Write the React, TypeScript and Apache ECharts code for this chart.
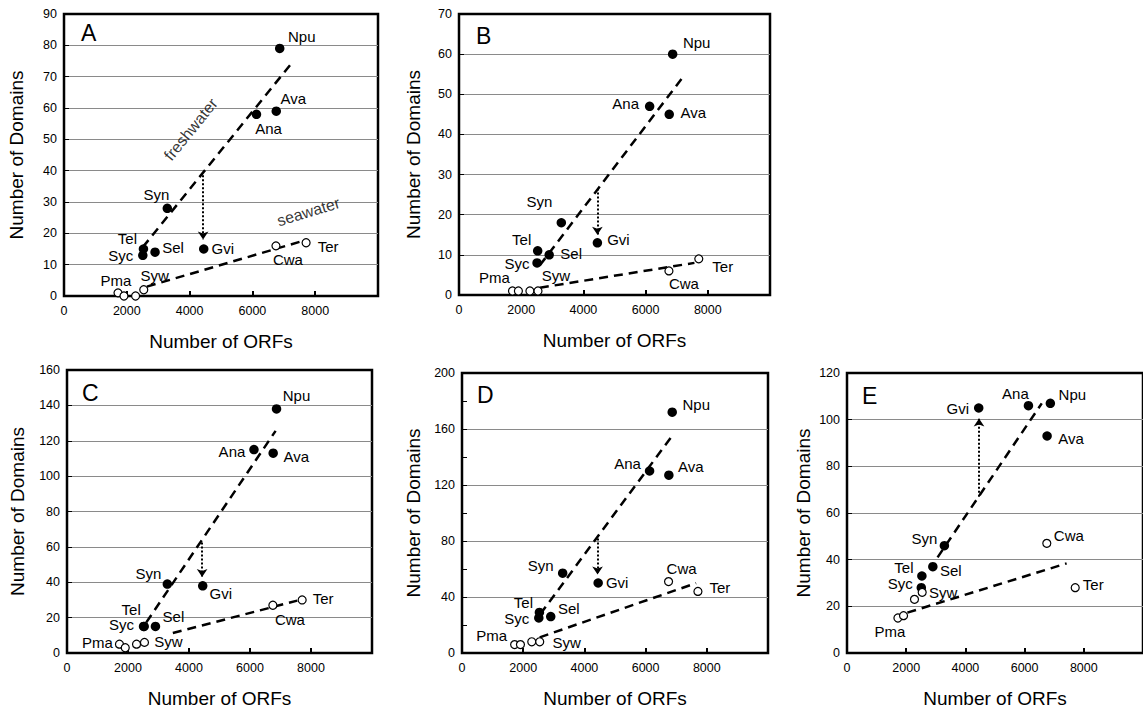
import React, { useEffect, useRef } from "react";
import * as echarts from "echarts";

// ---------- DATA ----------
const organisms = ["Npu", "Ava", "Ana", "Syn", "Gvi", "Sel", "Tel", "Syc", "Pma", "Pmm", "Pmt", "Syw", "Cwa", "Ter"];
const unlabeled = ["Pmm", "Pmt"];
const freshwaterCount = 8; // first 8 organisms are freshwater (filled), remaining seawater (open)
const orfs = [6870, 6760, 6130, 3290, 4450, 2900, 2530, 2510, 1720, 1910, 2280, 2540, 6750, 7710];

const domainsA = [79, 59, 58, 28, 15, 14, 15, 13, 1, 0, 0, 2, 16, 17];
const domainsB = [60, 45, 47, 18, 13, 10, 11, 8, 1, 1, 1, 1, 6, 9];
const domainsC = [138, 113, 115, 39, 38, 15, 15, 15, 5, 3, 5, 6, 27, 30];
const domainsD = [172, 127, 130, 57, 50, 26, 29, 25, 6, 6, 8, 8, 51, 44];
const domainsE = [107, 93, 106, 46, 105, 37, 33, 28, 15, 16, 23, 26, 47, 28];

// trend lines [[x1,y1],[x2,y2]]
const freshLineA = [[2510, 15.6], [7200, 73.7]];
const seaLineA = [[2640, 3], [7650, 17.7]];
const freshLineB = [[2600, 7.4], [7220, 54.5]];
const seaLineB = [[2600, 1.8], [7570, 8]];
const freshLineC = [[2600, 17.3], [6840, 125.6]];
const seaLineC = [[3470, 11.3], [7550, 29.6]];
const freshLineD = [[2560, 27.8], [6820, 153.7]];
const seaLineD = [[2540, 11.2], [7650, 49.9]];
const freshLineE = [[3060, 41], [6580, 107]];
const seaLineE = [[2040, 17.3], [7420, 38.4]];

// Gvi arrows [x, from, to]
const arrowA = [4430, 38.5, 18];
const arrowB = [4450, 26.5, 15];
const arrowC = [4430, 62.5, 43];
const arrowD = [4430, 81.7, 56];
const arrowE = [4460, 67, 100.5];

// axis ranges
const yMaxes = [90, 70, 160, 200, 120];
const yIntervals = [10, 10, 20, 40, 20];
const panelLetters = ["A", "B", "C", "D", "E"];
const freshwaterTextPos = [4038, 53.2];
const seawaterTextPos = [7787, 26.9];

// ---------- STYLE / LAYOUT ----------
const FONT = '"Liberation Sans", Arial, Helvetica, sans-serif';
const grids = [
  { left: 64, top: 14, width: 314, height: 282 },
  { left: 459, top: 14, width: 311, height: 281 },
  { left: 67, top: 370, width: 305, height: 284 },
  { left: 462, top: 373, width: 306, height: 281 },
  { left: 847, top: 373, width: 308, height: 284 },
];
const yNameGaps = [38, 36, 40, 39, 34];
const letterOffsets = [[17, 11], [17, 14], [15, 15], [15, 14], [15, 15]];

type Off = [number, number] | null;
const labelOffA: Off[] = [[22, -12], [17, -13], [12, 14], [-11, -14], [19, -1], [18, -5], [-16, -11], [-22, 0], [-2, -12], null, null, [11, -14], [12, 14], [22, 4]];
const labelOffB: Off[] = [[24, -12], [24, -2], [-24, -3], [-22, -21], [21, -3], [22, -1], [-16, -11], [-20, 1], [-18, -13], null, null, [18, -15], [15, 13], [24, 8]];
const labelOffC: Off[] = [[20, -13], [23, 3], [-22, 2], [-19, -11], [18, 8], [18, -10], [-13, -17], [-22, -2], [-22, -2], null, null, [24, -1], [17, 14], [21, -1]];
const labelOffD: Off[] = [[24, -8], [22, -9], [-22, -8], [-22, -8], [19, -1], [18, -8], [-16, -10], [-22, 0], [-23, -9], null, null, [27, 1], [13, -13], [22, -4]];
const labelOffE: Off[] = [[22, -9], [24, 2], [-13, -12], [-20, -7], [-21, 0], [18, 4], [-18, -9], [-21, -4], [-8, 13], null, null, [21, 0], [22, -8], [18, -3]];

const domainsAll = [domainsA, domainsB, domainsC, domainsD, domainsE];
const freshLines = [freshLineA, freshLineB, freshLineC, freshLineD, freshLineE];
const seaLines = [seaLineA, seaLineB, seaLineC, seaLineD, seaLineE];
const arrows = [arrowA, arrowB, arrowC, arrowD, arrowE];
const labelOffs = [labelOffA, labelOffB, labelOffC, labelOffD, labelOffE];

function buildOption() {
  const grid: any[] = [];
  const xAxis: any[] = [];
  const yAxis: any[] = [];
  const series: any[] = [];
  const graphic: any[] = [];

  for (let i = 0; i < 5; i++) {
    const g = grids[i];
    grid.push({ ...g, show: true, borderColor: "#000", borderWidth: 2.5, backgroundColor: "transparent" });
    xAxis.push({
      type: "value",
      gridIndex: i,
      min: 0,
      max: 10000,
      interval: 2000,
      axisLine: { show: false },
      axisTick: { show: true, inside: true, length: 5, lineStyle: { color: "#000", width: 2 } },
      axisLabel: { showMaxLabel: false, color: "#000", fontSize: 12.5, margin: 8, fontFamily: FONT, formatter: (v: number) => String(v) },
      splitLine: { show: false },
      name: "Number of ORFs",
      nameLocation: "middle",
      nameGap: 36,
      nameTextStyle: { fontSize: 19, color: "#000", fontFamily: FONT },
    });
    const isD = i === 3;
    yAxis.push({
      type: "value",
      gridIndex: i,
      min: 0,
      max: yMaxes[i],
      interval: yIntervals[i],
      axisLine: { show: false },
      axisTick: { show: true, inside: true, length: 5, lineStyle: { color: "#000", width: 1 } },
      minorTick: isD ? { show: true, splitNumber: 2, length: 5, lineStyle: { color: "#000", width: 1 } } : { show: false },
      minorSplitLine: { show: false },
      axisLabel: { color: "#000", fontSize: 12.5, margin: 7, fontFamily: FONT, formatter: (v: number) => String(v) },
      splitLine: { show: true, showMinLine: false, showMaxLine: false, lineStyle: { color: "#8a8a8a", width: 1 } },
      name: "Number of Domains",
      nameLocation: "middle",
      nameGap: yNameGaps[i],
      nameTextStyle: { fontSize: 19, color: "#000", fontFamily: FONT },
    });

    const arrow = arrows[i];
    series.push({
      type: "line",
      xAxisIndex: i,
      yAxisIndex: i,
      data: freshLines[i],
      symbol: "none",
      silent: true,
      z: 2,
      lineStyle: { color: "#000", width: 2.5, type: [9, 6] },
      markLine: {
        silent: true,
        symbol: ["none", "arrow"],
        symbolSize: 8,
        lineStyle: { color: "#000", width: 2, type: [2, 2] },
        label: { show: false },
        data: [[{ coord: [arrow[0], arrow[1]] }, { coord: [arrow[0], arrow[2]] }]],
      },
    });
    series.push({
      type: "line",
      xAxisIndex: i,
      yAxisIndex: i,
      data: seaLines[i],
      symbol: "none",
      silent: true,
      z: 2,
      lineStyle: { color: "#000", width: 2.5, type: [9, 6] },
    });

    const mkItem = (k: number) => {
      const off = labelOffs[i][k];
      const name = organisms[k];
      return {
        name,
        value: [orfs[k], domainsAll[i][k]],
        label: off && !unlabeled.includes(name)
          ? { show: true, position: "inside", offset: off, formatter: name, color: "#000", fontSize: 15, fontFamily: FONT, textBorderWidth: 0 }
          : { show: false },
      };
    };
    const filled: any[] = [];
    const open: any[] = [];
    for (let k = 0; k < organisms.length; k++) {
      (k < freshwaterCount ? filled : open).push(mkItem(k));
    }
    series.push({
      type: "scatter",
      xAxisIndex: i,
      yAxisIndex: i,
      data: filled,
      symbol: "circle",
      symbolSize: 9.5,
      z: 3,
      silent: true,
      itemStyle: { color: "#000", opacity: 1 },
    });
    series.push({
      type: "scatter",
      xAxisIndex: i,
      yAxisIndex: i,
      data: open,
      symbol: "circle",
      symbolSize: 8,
      z: 4,
      silent: true,
      itemStyle: { color: "#fff", borderColor: "#000", borderWidth: 1.2, opacity: 1 },
    });

    graphic.push({
      type: "text",
      left: g.left + letterOffsets[i][0],
      top: g.top + letterOffsets[i][1] - 4,
      style: { text: panelLetters[i], fontSize: 23, fill: "#000", fontFamily: FONT },
    });
  }

  // annotations on panel A
  series.push({
    type: "scatter",
    xAxisIndex: 0,
    yAxisIndex: 0,
    symbolSize: 0,
    silent: true,
    z: 5,
    data: [
      { value: freshwaterTextPos, label: { show: true, position: "inside", formatter: "freshwater", rotate: 51, color: "#000", fontSize: 16, fontFamily: FONT, textBorderWidth: 0 } },
      { value: seawaterTextPos, label: { show: true, position: "inside", formatter: "seawater", rotate: 17, color: "#000", fontSize: 16, fontFamily: FONT, textBorderWidth: 0 } },
    ],
  });

  return {
    animation: false,
    backgroundColor: "#fff",
    textStyle: { fontFamily: FONT },
    grid,
    xAxis,
    yAxis,
    series,
    graphic,
  };
}

export default function App() {
  const ref = useRef<HTMLDivElement>(null);
  useEffect(() => {
    if (!ref.current) return;
    const chart = echarts.init(ref.current, null, { renderer: "svg" });
    chart.setOption(buildOption() as any);
    return () => chart.dispose();
  }, []);
  return (
    <div
      ref={ref}
      style={{ position: "fixed", left: 0, top: 0, width: 1143, height: 709, background: "#fff" }}
    />
  );
}
